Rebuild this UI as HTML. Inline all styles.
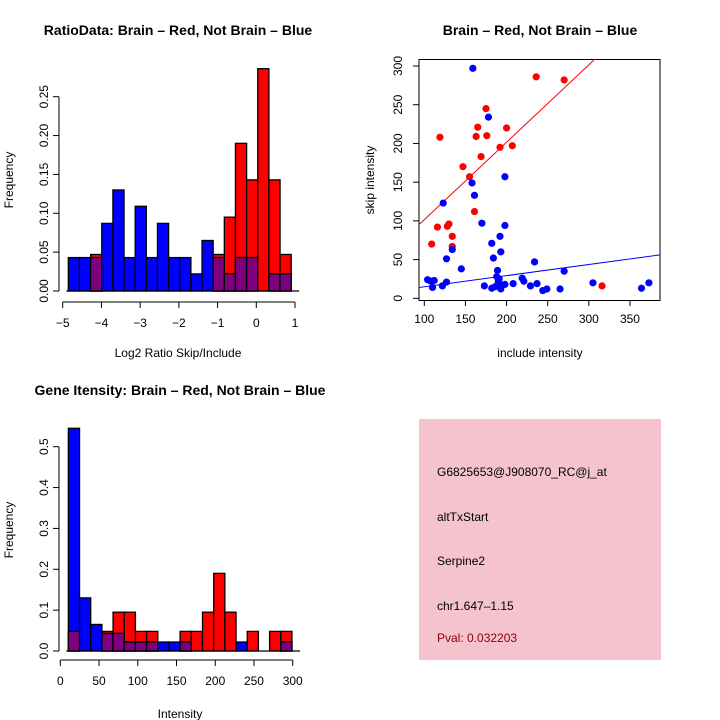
<!DOCTYPE html>
<html><head><meta charset="utf-8"><style>
body{margin:0;background:#fff}
svg{display:block;font-family:"Liberation Sans",sans-serif}
</style></head><body>
<svg id="s" width="720" height="720" xmlns="http://www.w3.org/2000/svg">
<text x="178" y="35" font-size="14" font-weight="bold" text-anchor="middle">RatioData: Brain – Red, Not Brain – Blue</text>
<text x="540" y="35" font-size="14" font-weight="bold" text-anchor="middle">Brain – Red, Not Brain – Blue</text>
<text x="180" y="395" font-size="14" font-weight="bold" text-anchor="middle">Gene Itensity: Brain – Red, Not Brain – Blue</text>
<text x="178" y="357" font-size="12" text-anchor="middle">Log2 Ratio Skip/Include</text>
<text x="540" y="357" font-size="12" text-anchor="middle">include intensity</text>
<text x="180" y="718" font-size="12" text-anchor="middle">Intensity</text>
<text transform="translate(13,180) rotate(-90)" font-size="12" text-anchor="middle">Frequency</text>
<text transform="translate(374,180) rotate(-90)" font-size="12" text-anchor="middle">skip intensity</text>
<text transform="translate(13,530) rotate(-90)" font-size="12" text-anchor="middle">Frequency</text>
<g>
<rect x="419" y="419" width="242" height="241" fill="#f4c3cd"/>
<text x="437" y="476" font-size="12">G6825653@J908070_RC@j_at</text>
<text x="437" y="521" font-size="12">altTxStart</text>
<text x="437" y="565" font-size="12">Serpine2</text>
<text x="437" y="610" font-size="12">chr1.647–1.15</text>
<text x="437" y="642" font-size="12" fill="#8b0000">Pval: 0.032203</text>
</g>
</svg>
<script>
const ratioBlue=[0.043,0.043,0.043,0.087,0.13,0.043,0.109,0.043,0.087,0.043,0.043,0.022,0.065,0.043,0.022,0.043,0.043,0,0.022,0.022];
const ratioRed=[0,0,0.047,0,0,0,0,0,0,0,0,0,0,0.047,0.095,0.19,0.143,0.286,0.143,0.047];
const ratioXTicks=[-5,-4,-3,-2,-1,0,1];
const ratioYTicks=["0.00","0.05","0.10","0.15","0.20","0.25"];
const intBlue=[0.545,0.13,0.065,0.043,0.043,0.022,0.022,0.022,0.022,0.022,0.022,0,0,0,0,0.022,0,0,0,0.022];
const intRed=[0.048,0,0,0.048,0.095,0.095,0.048,0.048,0,0,0.048,0.048,0.095,0.19,0.095,0,0.048,0,0.048,0.048];
const intXTicks=[0,50,100,150,200,250,300];
const intYTicks=["0.0","0.1","0.2","0.3","0.4","0.5"];
const redX=[109,116,119,128,130,134,134,147,155,161,163,165,169,175,176,192,200,207,236,270,316];
const redY=[70,92,208,93,96,80,67,170,157,112,209,221,183,245,210,195,220,197,286,282,16];
const blueX=[159,178,198,158,161,123,170,198,192,182,134,184,127,193,234,145,189,270,104,108,112,110,122,127,173,182,188,190,189,193,195,198,208,219,221,229,237,244,249,265,305,364,373,186,191];
const blueY=[297,234,157,149,133,123,97,94,80,71,63,52,51,60,47,38,36,35,24,22,23,14,16,21,16,13,28,22,17,12,17,18,19,26,22,16,19,10,12,12,20,13,20,15,25];
const redFit=[1.5,1.0], blueFit=[0.6,0.1434];
const scXTicks=[100,150,200,250,300,350], scYTicks=[0,50,100,150,200,250,300];
const NS="http://www.w3.org/2000/svg", S=document.getElementById('s');
function mk(t,a,p){const e=document.createElementNS(NS,t);for(const k in a)e.setAttribute(k,a[k]);(p||S).appendChild(e);return e;}
function hist(blue,red,x0,bw,xs,ys,yAxisX,axisY,xt,yt,ytv,name){
  const g=mk('g',{});
  
  
  blue.forEach((b,i)=>{const r=red[i];const l=xs(x0+i*bw),w=xs(x0+(i+1)*bw)-l;
    const bars=[[b,'#0000ff','blue'],[r,'#ff0000','red']].sort((p,q)=>q[0]-p[0]);
    bars.forEach(([v,c,n])=>{if(v>0){const e=mk('rect',{x:l,y:ys(v),width:w,height:ys(0)-ys(v),fill:c,stroke:'#000','stroke-width':1.3},g);
      
      }});
    const m=Math.min(b,r);
    if(m>0){const e=mk('rect',{x:l,y:ys(m),width:w,height:ys(0)-ys(m),fill:'#7f007f',stroke:'#000','stroke-width':1.3},g);
      
      }
  });
  mk('line',{x1:xs(xt[0]),x2:xs(xt[xt.length-1]),y1:axisY,y2:axisY,stroke:'#000'},g);
  xt.forEach(v=>{mk('line',{x1:xs(v),x2:xs(v),y1:axisY,y2:axisY+6,stroke:'#000'},g);
    const t=mk('text',{x:xs(v),y:axisY+25,'font-size':12,'text-anchor':'middle'},g);t.textContent=String(v).replace('-','\u2212');
    
    });
  mk('line',{x1:yAxisX,x2:yAxisX,y1:ys(ytv[0]),y2:ys(ytv[ytv.length-1]),stroke:'#000'},g);
  ytv.forEach((v,i)=>{mk('line',{x1:yAxisX-6,x2:yAxisX,y1:ys(v),y2:ys(v),stroke:'#000'},g);
    const t=mk('text',{transform:`translate(${yAxisX-11},${ys(v)}) rotate(-90)`,'font-size':12,'text-anchor':'middle'},g);t.textContent=yt[i];
    
    });
  mk('line',{x1:xs(x0)-2,x2:xs(x0+blue.length*bw)+8,y1:ys(0),y2:ys(0),stroke:'#000','stroke-width':1.3},g);
}
hist(ratioBlue,ratioRed,-4.855,0.2878,v=>62.7+(v+5)*38.72,v=>291-v*777.2,59,302,ratioXTicks,ratioYTicks,[0,0.05,0.1,0.15,0.2,0.25],'ratio-histogram');
hist(intBlue,intRed,10.4,14.43,v=>60.3+v*0.7747,v=>651-v*408.6,59,660,intXTicks,intYTicks,[0,0.1,0.2,0.3,0.4,0.5],'intensity-histogram');
const sx=v=>424.3+(v-100)*0.8227, sy=v=>298.3-v*0.7743;
const sg=mk('g',{});


const cp=mk('clipPath',{id:'cp'},sg);mk('rect',{x:419,y:59,width:241,height:241},cp);
const box=mk('rect',{x:419,y:59.5,width:241,height:241,fill:'none',stroke:'#000'},sg);


scXTicks.forEach(v=>{mk('line',{x1:sx(v),x2:sx(v),y1:300.5,y2:306,stroke:'#000'},sg);
  const t=mk('text',{x:sx(v),y:323,'font-size':12,'text-anchor':'middle'},sg);t.textContent=v;
  
  });
scYTicks.forEach(v=>{mk('line',{x1:413,x2:419,y1:sy(v),y2:sy(v),stroke:'#000'},sg);
  const t=mk('text',{transform:`translate(402,${sy(v)}) rotate(-90)`,'font-size':12,'text-anchor':'middle'},sg);t.textContent=v;
  
  });
[[redFit,'#ff0000','red-fit-line'],[blueFit,'#0000ff','blue-fit-line']].forEach(([f,c,n])=>{
  const l=mk('line',{x1:sx(80),y1:sy(f[0]+f[1]*80),x2:sx(400),y2:sy(f[0]+f[1]*400),stroke:c,'clip-path':'url(#cp)'},sg);
  
  });
redX.forEach((x,i)=>{const e=mk('circle',{cx:sx(x),cy:sy(redY[i]),r:3.6,fill:'#ff0000'},sg);
  
  });
blueX.forEach((x,i)=>{const e=mk('circle',{cx:sx(x),cy:sy(blueY[i]),r:3.6,fill:'#0000ff'},sg);
  
  });
</script>
</body></html>
